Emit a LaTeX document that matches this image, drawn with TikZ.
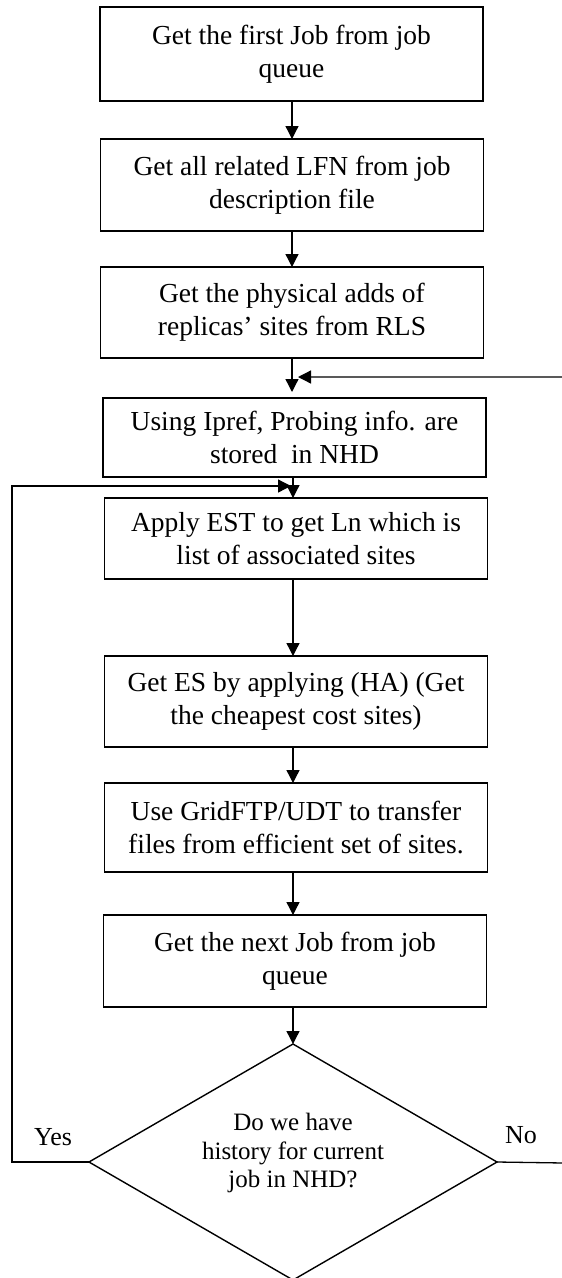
\documentclass[tikz,border=0pt]{standalone}
\usepackage{fontspec}
\setmainfont{Liberation Serif}
\usetikzlibrary{arrows.meta,shapes.geometric}
\begin{document}
\begin{tikzpicture}[x=1pt,y=-1pt,
  every node/.style={inner sep=0pt, outer sep=0pt},
  procbox/.style={draw, line width=1.4pt, minimum width=383pt, align=center,
    font=\fontsize{27.5}{33}\selectfont},
  decision/.style={draw, line width=1.4pt, shape=diamond, minimum width=408pt,
    minimum height=236pt, inner sep=0pt},
  dtext/.style={align=center, font=\fontsize{25}{28.5}\selectfont},
  lbl/.style={font=\fontsize{26}{30}\selectfont},
  conn/.style={line width=1.3pt},
  arr/.style={conn, -{Triangle[length=13pt,width=13pt]}}
]
\useasboundingbox (0,0) rectangle (562,1278);

\node[procbox, minimum height=94pt] (b1) at (291.5,54) {Get the first Job from job\\queue};
\node[procbox, minimum height=92pt] (b2) at (292,185) {Get all related LFN from job\\description file};
\node[procbox, minimum height=91pt] (b3) at (292,312.5) {Get the physical adds of\\replicas’ sites from RLS};
\node[procbox, minimum height=79pt] (b4) at (294.5,437.5) {Using Ipref, Probing info. are\\stored\ \ in NHD};
\node[procbox, minimum height=81pt] (b5) at (296,538.5) {Apply EST to get Ln which is\\list of associated sites};
\node[procbox, minimum height=91pt] (b6) at (296,701.5) {Get ES by applying (HA) (Get\\the cheapest cost sites)};
\node[procbox, minimum height=89pt] (b7) at (296,827.5) {Use GridFTP/UDT to transfer\\files from efficient set of sites.};
\node[procbox, minimum height=92pt] (b8) at (295,961) {Get the next Job from job\\queue};

\node[decision] (d) at (293,1162) {};
\node[dtext] (dt) at ([yshift=9pt]d.center) {Do we have\\history for current\\job in NHD?};

\node[lbl] (yes) at (53,1137) {Yes};
\node[lbl] (no) at (521,1135) {No};

\coordinate (j1) at (298,377);
\coordinate (j2) at (291,486);
\coordinate (r1) at (564,1163);
\coordinate (r2) at (564,377);
\coordinate (l1) at (12,1162);
\coordinate (l2) at (12,486);

\draw[arr] (b1.south -| 292,0) -- (b2.north -| 292,0);
\draw[arr] (b2.south -| 292,0) -- (b3.north -| 292,0);
\draw[arr] (b3.south -| 292,0) -- ([yshift=6pt]b4.north -| 292,0);
\draw[arr] (b4.south -| 293,0) -- (b5.north -| 293,0);
\draw[arr] (b5.south -| 293,0) -- (b6.north -| 293,0);
\draw[arr] (b6.south -| 293,0) -- (b7.north -| 293,0);
\draw[arr] (b7.south -| 293,0) -- (b8.north -| 293,0);
\draw[arr] (b8.south -| 293,0) -- (d.north);

\draw[arr] (d.east) -- (r1) -- (r2) -- (j1);
\draw[arr] (d.west) -- (l1) -- (l2) -- (j2);
\end{tikzpicture}
\end{document}
